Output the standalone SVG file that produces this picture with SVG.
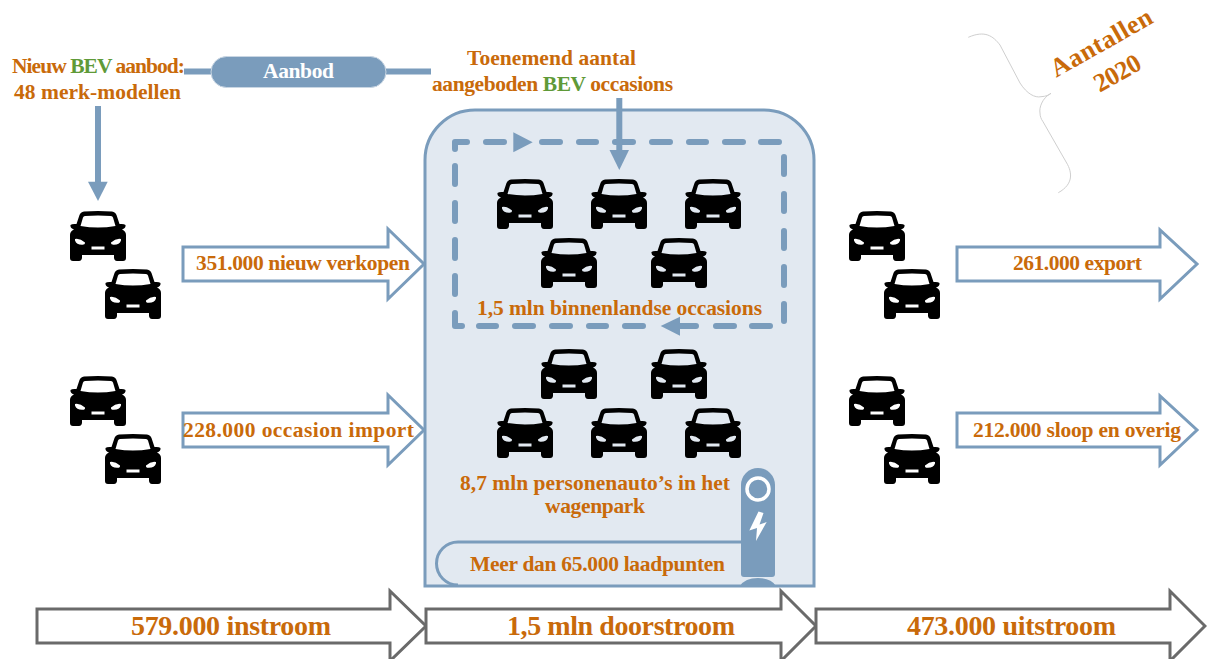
<svg xmlns="http://www.w3.org/2000/svg" width="1207" height="659" viewBox="0 0 1207 659">
<style>
text{font-family:"Liberation Serif",serif;font-weight:bold;font-size:21.5px;fill:#c96a0a;text-anchor:middle}
.big{font-size:28px}
.blue{fill:#fff;stroke:#7a9cbc;stroke-width:3}
.gray{fill:#fff;stroke:#6a6a6a;stroke-width:3}
.ln{fill:none;stroke:#7a9cbc;stroke-width:6}
.head{fill:#7a9cbc}
.dash{fill:none;stroke:#7a9cbc;stroke-width:6;stroke-linecap:round;stroke-linejoin:round}
</style>
<defs>
<path id="car" fill="#000" fill-rule="evenodd" d="M14 .5Q28-.5 42 .5 45.500 1 46.500 4L49.500 13Q54 12.500 55.500 14 56 17 52 18.500 56 20 56 24L56 47Q56 50 53 50L47 50Q44.500 50 44 47L44 44 12 44 12 47Q11.500 50 9 50L3 50Q0 50 0 47L0 24Q0 20 4 18.500 0 17 .5 14 2 12.500 6.500 13L9.500 4Q10.500 1 14 .5ZM15 5Q28 4 41 5 42.500 5.300 43 6.500L45.500 15Q28 18 10.500 15L13 6.500Q13.500 5.300 15 5ZM5 28Q10 27 15 31.500 15.500 34 12 33.800 6.500 33.800 5 29.500ZM51 28Q46 27 41 31.500 40.500 34 44 33.800 49.500 33.800 51 29.500ZM21.500 35.500H34.500V38.500H21.500Z"/>
</defs>

<g id="wagenpark">
<path d="M425 586V160A50 50 0 0 1 475 110H764A50 50 0 0 1 814 160V586Z" fill="#e2e9f1" stroke="#7a9cbc" stroke-width="3"/>
</g>

<g id="connectors">
<path class="ln" d="M184 71.500H431"/>
<path class="ln" d="M98 106V183"/>
<path class="head" d="M88 181.700H107.700L98 201Z"/>
<path class="dash" d="M455 149V142H467M486 142H504M542 142H560M579 142H596M615 142H633M652 142H670M689 142H706M725 142H743M761 142H779M784 157V174M784 194V211M784 231V248M784 267V285M784 304V321M770 326H752M734 326H716M696 326H679M643 326H625M606 326H589M570 326H552M533 326H515M496 326H479M462 326H455V313M455 294V276M455 258V240M455 221V203M455 184V166"/>
<path class="head" d="M513.300 132.300L532.700 142.300 513.300 152.300Z"/>
<path class="head" d="M660.700 326L680 316.700V335.700Z"/>
<path class="ln" d="M619.300 98V152"/>
<path class="head" d="M609.500 150H629L619.300 170Z"/>
<path d="M968.300 37.300C985 30 993 36 1000 45L1020 83C1027 94 1035 98 1041 96.700 1046 96.500 1049 95 1051 93.300 1042 98 1039 108 1040 113 1040 116 1041 119 1043 121.700L1066.700 163C1072 172 1074 184 1058.300 192.700" fill="none" stroke="#cfcfcf" stroke-width="1"/>
</g>

<g id="aanbod">
<rect x="211" y="56.500" width="175" height="31" rx="15.500" fill="#7a9cbc" stroke="#c9d6e3"/>
<text x="298.500" y="78" style="fill:#fff" textLength="71">Aanbod</text>
</g>

<g id="nieuw-aanbod">
<text x="98.500" y="73" textLength="173">Nieuw <tspan style="fill:#5f9a38">BEV</tspan> aanbod:</text>
<text x="97.500" y="99" textLength="167">48 merk-modellen</text>
</g>

<g id="occasions-aanbod">
<text x="551.500" y="65" textLength="169">Toenemend aantal</text>
<text x="552.500" y="91" textLength="241">aangeboden <tspan style="fill:#5f9a38">BEV</tspan> occasions</text>
</g>

<g id="aantallen">
<text transform="translate(1105.500 50) rotate(-29.500)" style="font-size:26px" textLength="113">Aantallen</text>
<text transform="translate(1121.500 80.500) rotate(-29.500)" style="font-size:26px" textLength="50">2020</text>
</g>

<g id="cars-instroom">
<use href="#car" x="70" y="211"/><use href="#car" x="105" y="269"/>
<use href="#car" x="70" y="376"/><use href="#car" x="105" y="434"/>
</g>
<g id="cars-uitstroom">
<use href="#car" x="849" y="211"/><use href="#car" x="884" y="269"/>
<use href="#car" x="849" y="376"/><use href="#car" x="884" y="434"/>
</g>
<g id="cars-occasions">
<use href="#car" x="497" y="179"/><use href="#car" x="591" y="179"/><use href="#car" x="685" y="179"/>
<use href="#car" x="541" y="238"/><use href="#car" x="651" y="238"/>
</g>
<g id="cars-wagenpark">
<use href="#car" x="541" y="349"/><use href="#car" x="651" y="349"/>
<use href="#car" x="497" y="408"/><use href="#car" x="591" y="408"/><use href="#car" x="685" y="408"/>
</g>

<g id="nieuw-verkopen">
<path class="blue" d="M183 247H388V229L424 264 388 299V281H183Z"/>
<text x="303" y="270" textLength="214">351.000 nieuw verkopen</text>
</g>
<g id="occasion-import">
<path class="blue" d="M183 413H388V395L424 430 388 465V447H183Z"/>
<text x="298.500" y="437" textLength="231">228.000 occasion import</text>
</g>
<g id="export">
<path class="blue" d="M957 247H1160V230L1197 264 1160 299V281H957Z"/>
<text x="1077.500" y="270" textLength="129">261.000 export</text>
</g>
<g id="sloop">
<path class="blue" d="M957 413H1160V396L1197 430 1160 465V447H957Z"/>
<text x="1077" y="437" textLength="208">212.000 sloop en overig</text>
</g>

<text x="619.500" y="315" textLength="285">1,5 mln binnenlandse occasions</text>
<text x="595" y="490" textLength="270">8,7 mln personenauto’s in het</text>
<text x="595" y="513" textLength="100">wagenpark</text>

<g id="laadpunten">
<path d="M741 542H458A21.500 21.500 0 0 0 458 585" fill="none" stroke="#7a9cbc" stroke-width="3"/>
<text x="597.500" y="571" textLength="255">Meer dan 65.000 laadpunten</text>
<path d="M741 485A17 17 0 0 1 775 485V574Q775 577 772 577H744Q741 577 741 574Z" fill="#7a9cbc"/>
<path d="M740 586Q745 578 758 578 771 578 776 586Z" fill="#7a9cbc"/>
<circle cx="758" cy="489" r="11" fill="none" stroke="#fff" stroke-width="3.500"/>
<path d="M758.500 511.500L749.300 530.500 757 528 756 541 766.700 522 759.500 524.500 763.500 513Z" fill="#fff"/>
</g>

<g id="instroom">
<path class="gray" d="M37 609H390V591L426 626 390 661V643H37Z"/>
<text class="big" x="231" y="635" textLength="200">579.000 instroom</text>
</g>
<g id="doorstroom">
<path class="gray" d="M426 609H781V591L816 626 781 661V643H426Z"/>
<text class="big" x="621" y="635" textLength="228">1,5 mln doorstroom</text>
</g>
<g id="uitstroom">
<path class="gray" d="M816 609H1170V591L1205 626 1170 661V643H816Z"/>
<text class="big" x="1011.500" y="635" textLength="209">473.000 uitstroom</text>
</g>
</svg>
